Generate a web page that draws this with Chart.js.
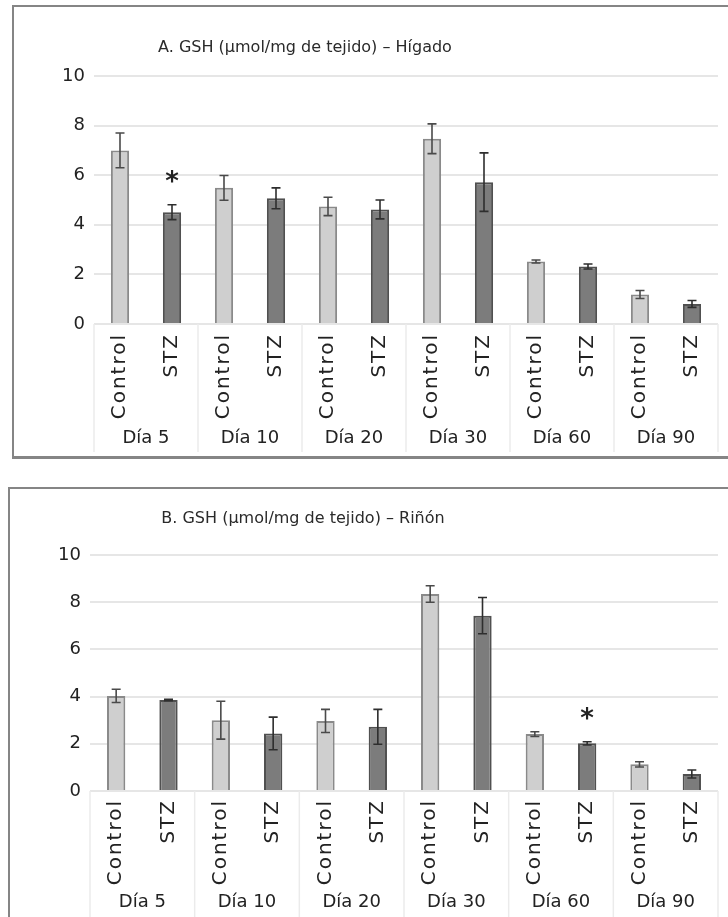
<!DOCTYPE html>
<html>
<head>
<meta charset="utf-8">
<script src="https://cdn.jsdelivr.net/npm/chart.js@4.4.1/dist/chart.umd.min.js"></script>
<style>
  html, body { margin: 0; padding: 0; background: #ffffff; overflow: hidden; width: 728px; height: 917px; }
  .box { position: absolute; border: 2px solid #858585; background: #fff; }
  #boxA { left: 12px; top: 5px; width: 740px; height: 449px; border-bottom-width: 3px; }
  #boxB { left: 8px; top: 487px; width: 748px; height: 440px; }
  canvas { display: block; }
</style>
</head>
<body>
<div class="box" id="boxA"><canvas id="chartA" width="740" height="449"></canvas></div>
<div class="box" id="boxB"><canvas id="chartB" width="748" height="440"></canvas></div>
<script>
// ---- Data ----
const days = ['Día 5', 'Día 10', 'Día 20', 'Día 30', 'Día 60', 'Día 90'];
const groups = ['Control', 'STZ'];

const titleA = 'A. GSH (µmol/mg de tejido) – Hígado';
const liverControl    = [7.0, 5.49, 4.74, 7.47, 2.52, 1.19];
const liverControlErr = [0.70, 0.50, 0.37, 0.60, 0.06, 0.16];
const liverStz        = [4.51, 5.07, 4.62, 5.72, 2.32, 0.81];
const liverStzErr     = [0.30, 0.42, 0.38, 1.18, 0.10, 0.14];
const liverStzStar    = [true, false, false, false, false, false];

const titleB = 'B. GSH (µmol/mg de tejido) – Riñón';
const kidneyControl    = [4.03, 3.0, 2.97, 8.35, 2.41, 1.13];
const kidneyControlErr = [0.28, 0.80, 0.49, 0.35, 0.10, 0.11];
const kidneyStz        = [3.86, 2.44, 2.72, 7.43, 2.02, 0.72];
const kidneyStzErr     = [0.03, 0.69, 0.74, 0.77, 0.07, 0.17];
const kidneyStzStar    = [false, false, false, false, true, false];

const yTicks = [0, 2, 4, 6, 8, 10];

// ---- Chart construction ----
const FONT = "'DejaVu Sans', Verdana, sans-serif";
Chart.defaults.font.family = FONT;
Chart.defaults.font.size = 18;
Chart.defaults.color = '#222';

const ROT_SPACING = '2px';

// panel title drawn on the canvas (centred at a given canvas x)
const panelTitlePlugin = {
  id: 'panelTitle',
  beforeDraw(chart, args, opts) {
    const ctx = chart.ctx;
    ctx.letterSpacing = '0px';
    ctx.save();
    ctx.font = opts.size + 'px ' + FONT;
    ctx.fillStyle = '#2a2a2a';
    ctx.textAlign = 'center';
    ctx.textBaseline = 'middle';
    ctx.fillText(opts.text, opts.x, opts.y);
    ctx.restore();
  }
};

const separatorPlugin = {
  id: 'separators',
  afterDraw(chart) {
    const ctx = chart.ctx, x = chart.scales.x, x2 = chart.scales.x2;
    ctx.letterSpacing = '0px';
    const n = x.getLabels().length;
    const step = (x.getPixelForValue(1) - x.getPixelForValue(0));
    ctx.save();
    ctx.strokeStyle = '#ebebeb';
    ctx.lineWidth = 1.5;
    for (let i = 0; i <= n; i += 2) {
      const px = x.getPixelForValue(0) - step / 2 + i * step;
      ctx.beginPath();
      ctx.moveTo(px, x.top);
      ctx.lineTo(px, x2.bottom - 4);
      ctx.stroke();
    }
    ctx.restore();
  }
};

const errorPlugin = {
  id: 'errorBars',
  afterDatasetsDraw(chart) {
    const ctx = chart.ctx, y = chart.scales.y;
    ctx.save();
    chart.data.datasets.forEach((ds, di) => {
      const meta = chart.getDatasetMeta(di);
      ds.data.forEach((v, i) => {
        if (v == null) return;
        const e = ds.errors[i];
        const bx = meta.data[i].x;
        const yt = y.getPixelForValue(v + e), yb = y.getPixelForValue(v - e);
        ctx.strokeStyle = ds.errorColor;
        ctx.lineWidth = 1.6;
        ctx.beginPath();
        ctx.moveTo(bx, yt); ctx.lineTo(bx, yb);
        ctx.moveTo(bx - 4.5, yt); ctx.lineTo(bx + 4.5, yt);
        ctx.moveTo(bx - 4.5, yb); ctx.lineTo(bx + 4.5, yb);
        ctx.stroke();
        if (ds.stars && ds.stars[i]) {
          ctx.letterSpacing = '0px';
          ctx.font = 'bold 26px ' + FONT;
          ctx.fillStyle = '#222';
          ctx.textAlign = 'center';
          ctx.textBaseline = 'alphabetic';
          const m = ctx.measureText('*');
          const cy = yt - 28;
          ctx.fillText('*', bx, cy + (m.actualBoundingBoxAscent - m.actualBoundingBoxDescent) / 2);
        }
      });
    });
    ctx.restore();
    // the rotated Control/STZ labels (x scale, z = 1) are drawn right after this, spaced out
    ctx.letterSpacing = ROT_SPACING;
  }
};

function buildChart(canvasId, title, ctrl, ctrlErr, stz, stzErr, stzStar, cfg) {
  const labels = days.flatMap(() => groups);
  const ctrlData = [], stzData = [], ctrlE = [], stzE = [], stars = [];
  days.forEach((d, i) => {
    ctrlData.push(ctrl[i], null); stzData.push(null, stz[i]);
    ctrlE.push(ctrlErr[i], null); stzE.push(null, stzErr[i]);
    stars.push(false, stzStar[i]);
  });
  return new Chart(document.getElementById(canvasId), {
    type: 'bar',
    data: {
      labels,
      datasets: [
        { label: 'Control', data: ctrlData, errors: ctrlE, errorColor: '#4a4a4a',
          backgroundColor: '#cfcfcf', borderColor: '#8a8a8a', borderWidth: 2 },
        { label: 'STZ', data: stzData, errors: stzE, stars, errorColor: '#2e2e2e',
          backgroundColor: '#7c7c7c', borderColor: '#505050', borderWidth: 2 }
      ]
    },
    options: {
      responsive: false,
      animation: false,
      devicePixelRatio: 1,
      layout: { padding: { left: 0, right: cfg.padRight, top: cfg.padTop, bottom: 0 } },
      datasets: { bar: { grouped: false, barPercentage: 0.35, categoryPercentage: 1 } },
      plugins: {
        legend: { display: false },
        tooltip: { enabled: false },
        title: { display: false },
        panelTitle: { text: title, x: cfg.titleX, y: cfg.titleY, size: 16 }
      },
      scales: {
        y: {
          min: 0, max: 10,
          afterBuildTicks: s => { s.ticks = yTicks.map(v => ({ value: v })); },
          afterFit: s => { s.width = 80; },
          border: { display: false },
          grid: { color: '#e6e6e6', lineWidth: 2, drawTicks: false },
          ticks: { padding: 9, color: '#222', font: { size: 18 } }
        },
        x: {
          weight: 0,
          afterFit: s => { s.height = 100; },
          border: { display: false },
          grid: { display: false },
          ticks: { z: 1, autoSkip: false, minRotation: 90, maxRotation: 90, padding: cfg.xPad,
                   color: '#222', font: { size: 20 } }
        },
        x2: {
          type: 'category',
          labels: days,
          position: 'bottom',
          weight: 1,
          offset: true,
          afterFit: s => { s.height = cfg.x2Height; },
          border: { display: false },
          grid: { display: false },
          ticks: { padding: cfg.x2Pad, color: '#222', maxRotation: 0, font: { size: 18 } }
        }
      }
    },
    plugins: [panelTitlePlugin, errorPlugin, separatorPlugin]
  });
}

buildChart('chartA', titleA, liverControl, liverControlErr, liverStz, liverStzErr, liverStzStar,
  { padRight: 36, padTop: 69, titleX: 291, titleY: 41, xPad: 1, x2Height: 32, x2Pad: -4 });
buildChart('chartB', titleB, kidneyControl, kidneyControlErr, kidneyStz, kidneyStzErr, kidneyStzStar,
  { padRight: 40, padTop: 66, titleX: 293, titleY: 30, xPad: 0, x2Height: 38, x2Pad: -7 });
</script>
</body>
</html>
